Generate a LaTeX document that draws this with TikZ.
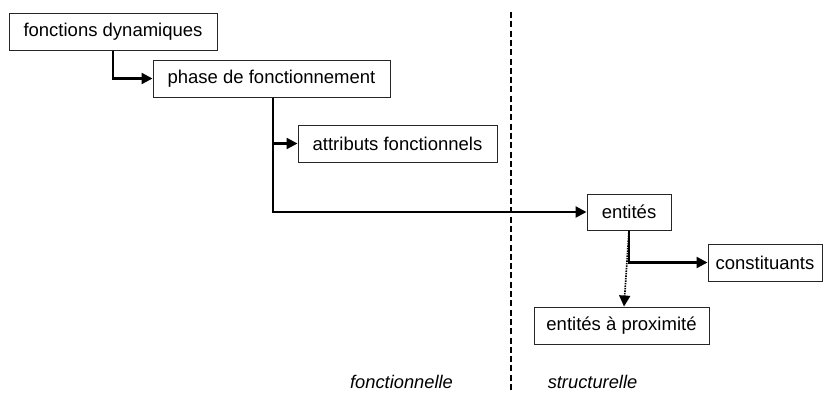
\documentclass[tikz,border=0pt]{standalone}
\usepackage{fontspec}
\setmainfont{Liberation Sans}
\usetikzlibrary{arrows.meta}
\begin{document}
\begin{tikzpicture}[x=1pt,y=-1pt,
  box/.style={draw=black!85,line width=1pt,fill=white,inner sep=0pt,
    font=\fontsize{18.5}{22}\selectfont},
  conn/.style={line width=2.3pt,-{Triangle[length=11pt,width=11pt]}},
  dotconn/.style={line width=1.7pt,dash pattern=on 1.5pt off 1pt,-{Triangle[length=11pt,width=11pt]}},
  sep/.style={line width=2.3pt,dash pattern=on 6pt off 3.3pt},
  side/.style={font=\fontsize{18.3}{22}\selectfont\itshape,inner sep=0pt,anchor=base}]
\useasboundingbox (0,0) rectangle (824,392);
\coordinate (sepT) at (511,12);
\coordinate (sepB) at (511,391);
\draw[sep] (sepT) -- (sepB);
\node[box,minimum width=208pt,minimum height=37pt] (fd) at (113,31.5) {fonctions dynamiques};
\node[box,minimum width=237pt,minimum height=37pt] (phase) at (271.5,78.5) {phase de fonctionnement};
\node[box,minimum width=199pt,minimum height=37pt] (attr) at (397.5,143.5) {attributs fonctionnels};
\node[box,minimum width=84pt,minimum height=36pt] (ent) at (629,212) {entités};
\node[box,minimum width=114pt,minimum height=37pt] (const) at (765,262.5) {constituants};
\node[box,minimum width=175pt,minimum height=37pt] (prox) at (621.5,325.5) {entités à proximité};
\node[side] (fonc) at (401.5,388) {fonctionnelle};
\node[side] (struc) at (592.5,388) {structurelle};
\draw[conn] (fd.south) |- (phase.west);
\draw[conn] ([xshift=1.5pt]phase.south) |- (attr.west);
\draw[conn] ([xshift=1.5pt]phase.south) |- (ent.west);
\draw[conn] (ent.south) |- (const.west);
\draw[dotconn] (ent.south) -- ([xshift=2.5pt]prox.north);
\end{tikzpicture}
\end{document}
